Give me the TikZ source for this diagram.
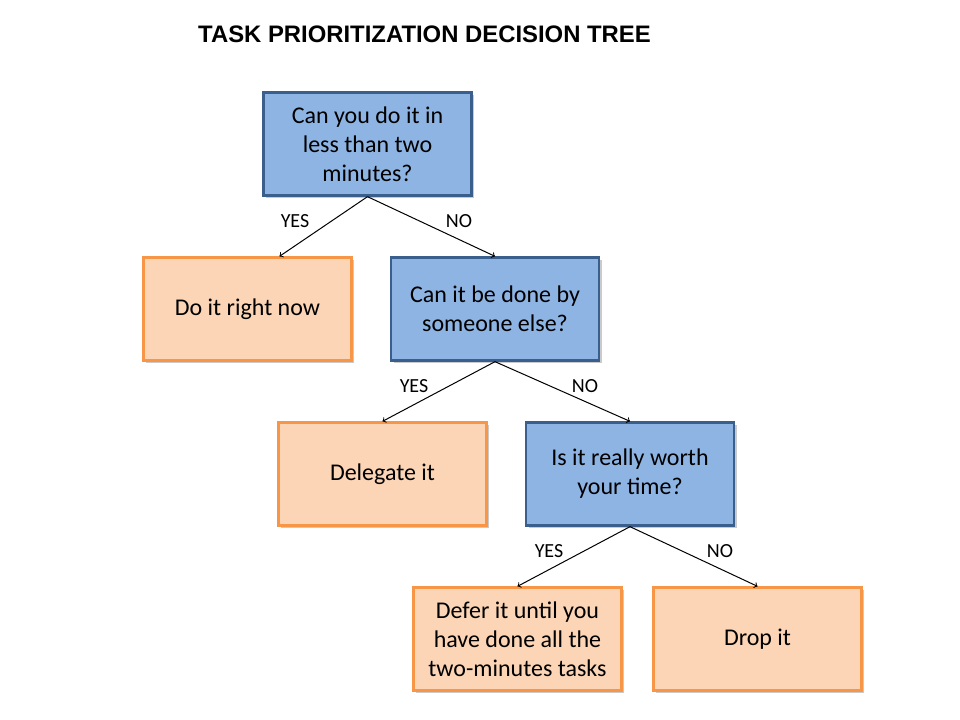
\documentclass[tikz,border=0pt]{standalone}
\usepackage{fontspec}
\setmainfont{Carlito}
\newfontfamily\titlefont{Liberation Sans}
\usetikzlibrary{shadows}

\definecolor{azulfondo}{HTML}{8EB4E3}
\definecolor{azulborde}{HTML}{3A5F8C}
\definecolor{narfondo}{HTML}{FBD5B5}
\definecolor{narborde}{HTML}{F79646}

\begin{document}
\begin{tikzpicture}[x=0.75pt,y=-0.75pt,
  caja/.style={rectangle,line width=2pt,minimum width=156pt,minimum height=77pt,
    align=center,font=\fontsize{18}{21.75}\selectfont,
    drop shadow={shadow xshift=2pt,shadow yshift=-2pt,opacity=.35,fill=black!60}},
  pregunta/.style={caja,fill=azulfondo,draw=azulborde},
  respuesta/.style={caja,fill=narfondo,draw=narborde},
  etiqueta/.style={font=\fontsize{15}{17}\selectfont,inner sep=1pt}]
  \useasboundingbox (0,0) rectangle (960,720);

  % Título
  \node[font=\titlefont\bfseries\fontsize{17.9}{20}\selectfont] (titulo) at (424.5,34) {TASK PRIORITIZATION DECISION TREE};

  % Preguntas
  \node[pregunta] (q1) at (367.5,144) {Can you do it in\\less than two\\minutes?};
  \node[pregunta] (q2) at (495,309) {Can it be done by\\someone else?};
  \node[pregunta] (q3) at (630,474) {Is it really worth\\your time?};

  % Respuestas
  \node[respuesta] (a1) at (247.5,309) {Do it right now};
  \node[respuesta] (a2) at (382.5,474) {Delegate it};
  \node[respuesta] (a3) at (517.5,639) {Defer it until you\\have done all the\\two-minutes tasks};
  \node[respuesta] (a4) at (757.5,639) {Drop it};
  \coordinate (a1t) at ([xshift=24pt]a1.north);

  % Flechas
  \foreach \from/\to in {q1.south/a1t, q1.south/q2.north, q2.south/a2.north,
                         q2.south/q3.north, q3.south/a3.north, q3.south/a4.north}
    \draw[->,line width=0.75pt] (\from) -- (\to);

  % Etiquetas
  \node[etiqueta] (y1) at (295,221) {YES};
  \node[etiqueta] (n1) at (459,221) {NO};
  \node[etiqueta] (y2) at (414,386) {YES};
  \node[etiqueta] (n2) at (585,386) {NO};
  \node[etiqueta] (y3) at (549,551) {YES};
  \node[etiqueta] (n3) at (720,551) {NO};
\end{tikzpicture}
\end{document}
